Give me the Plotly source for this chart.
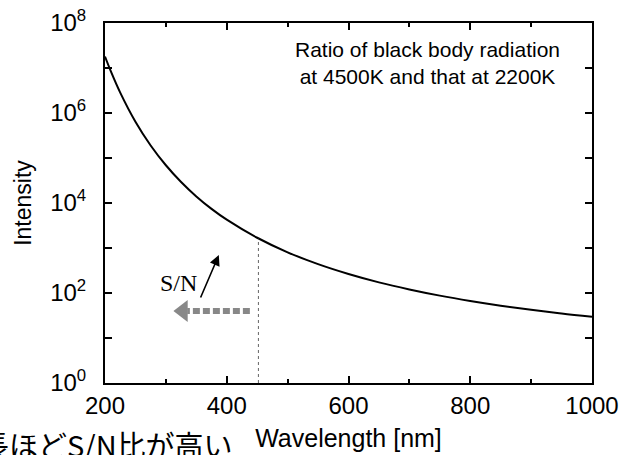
import math
import plotly.graph_objects as go

# ---- data ----
wavelength_nm = [200, 210, 225, 250, 275, 300, 325, 350, 375, 400, 450, 500,
                 550, 600, 650, 700, 750, 800, 850, 900, 950, 1000]
intensity_ratio = [1.8e7, 8.2e6, 2.84e6, 6.4e5, 1.9e5, 6.9e4, 2.93e4, 1.40e4,
                   7.4e3, 4.26e3, 1.69e3, 802, 437, 264, 172, 120, 87.4, 66.5,
                   52.3, 42.3, 34.9, 29.5]

x_tick_vals = [200, 400, 600, 800, 1000]
x_tick_text = ["200", "400", "600", "800", "1000"]
y_tick_vals = [1, 10, 100, 1e3, 1e4, 1e5, 1e6, 1e7, 1e8]
y_tick_text = ["10<sup>0</sup>", "", "10<sup>2</sup>", "", "10<sup>4</sup>", "",
               "10<sup>6</sup>", "", "10<sup>8</sup>"]

cutoff_nm = 452
cutoff_value = 1.6e3
gray_arrow_x = [438, 335]
gray_arrow_head_x = [328]
gray_arrow_y = 40
sn_arrow_tail = (356, 10 ** 1.867)
sn_arrow_tip = (387, 10 ** 2.844)

title_text = "Ratio of black body radiation<br>at 4500K and that at 2200K"
jp_text = "短波長ほどS/N比が高い"

FONT = "Liberation Sans, Arial, sans-serif"

fig = go.Figure()

fig.add_trace(go.Scatter(
    x=wavelength_nm, y=intensity_ratio, mode="lines",
    line=dict(color="black", width=2, shape="spline"), showlegend=False))

# vertical dashed cutoff line
fig.add_trace(go.Scatter(
    x=[cutoff_nm, cutoff_nm], y=[1, cutoff_value], mode="lines",
    line=dict(color="#666666", width=1, dash="3px,3px"), showlegend=False))

# gray dotted arrow
fig.add_trace(go.Scatter(
    x=gray_arrow_x, y=[gray_arrow_y] * len(gray_arrow_x), mode="lines",
    line=dict(color="#888888", width=6, dash="7px,3px"), showlegend=False))
fig.add_trace(go.Scatter(
    x=gray_arrow_head_x, y=[gray_arrow_y], mode="markers",
    marker=dict(symbol="triangle-left", size=19, color="#888888",
                line=dict(width=0)), showlegend=False))

fig.update_layout(
    width=621, height=455,
    margin=dict(l=105, r=29, t=23, b=72),
    paper_bgcolor="white", plot_bgcolor="white",
    font=dict(family=FONT, color="black"),
    xaxis=dict(
        range=[200, 1000], tickvals=x_tick_vals, ticktext=x_tick_text,
        ticks="inside", ticklen=7, tickwidth=2, tickcolor="black",
        minor=dict(dtick=100, tick0=0, ticks="inside", ticklen=4, tickwidth=2,
                   tickcolor="black"),
        showline=True, linecolor="black", linewidth=2, mirror="ticks",
        showgrid=False, zeroline=False, automargin=False,
        tickfont=dict(size=24, family=FONT),
        title=dict(text="Wavelength [nm]", font=dict(size=25, family=FONT),
                   standoff=12),
    ),
    yaxis=dict(
        type="log", range=[0, 8], tickvals=y_tick_vals, ticktext=y_tick_text,
        ticks="inside", ticklen=7, tickwidth=2, tickcolor="black",
        showline=True, linecolor="black", linewidth=2, mirror="ticks",
        showgrid=False, zeroline=False, automargin=False,
        ticklabelstandoff=12,
        tickfont=dict(size=24, family=FONT),
        title=dict(text="Intensity", font=dict(size=23, family=FONT),
                   standoff=12),
    ),
)

fig.add_annotation(
    x=0.663, y=0.889, xref="paper", yref="paper", text=title_text,
    showarrow=False, font=dict(size=21, family=FONT), align="center",
    xanchor="center", yanchor="middle")

fig.add_annotation(
    x=sn_arrow_tip[0], y=math.log10(sn_arrow_tip[1]),
    ax=sn_arrow_tail[0], ay=math.log10(sn_arrow_tail[1]),
    xref="x", yref="y", axref="x", ayref="y", text="",
    showarrow=True, arrowhead=2, arrowsize=1.3, arrowwidth=1.6,
    arrowcolor="black")

fig.add_annotation(
    x=320, y=2.22, xref="x", yref="y", text="S/N", showarrow=False,
    font=dict(size=24, family="Liberation Serif, Times New Roman, serif"),
    xanchor="center", yanchor="middle")

fig.add_annotation(
    x=0.267, y=-0.17, xref="paper", yref="paper", text=jp_text,
    showarrow=False, font=dict(size=29, family="Noto Sans CJK JP"),
    xanchor="right", yanchor="middle")

fig.write_html("out.html")
